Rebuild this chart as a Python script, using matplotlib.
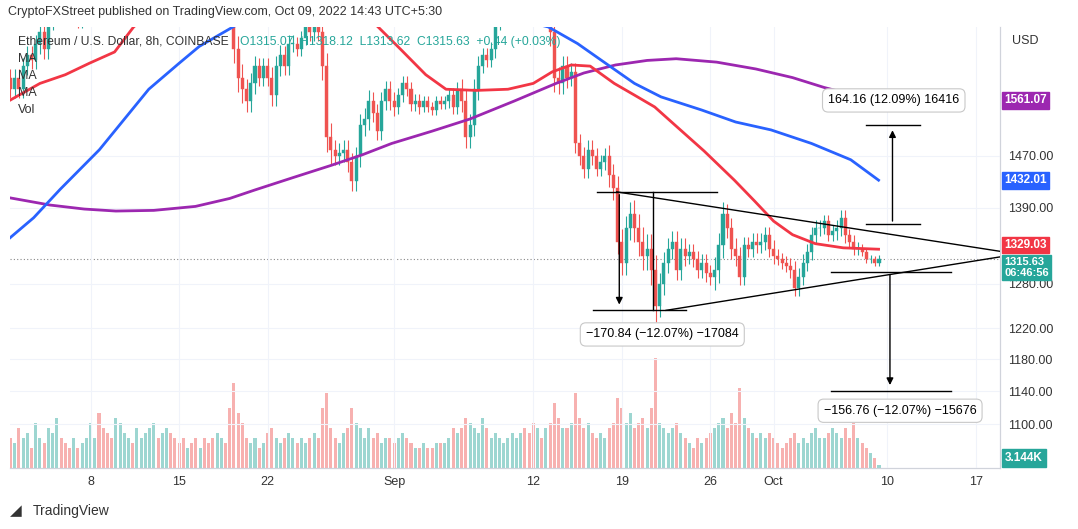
import numpy as np
import matplotlib
matplotlib.use("Agg")
import matplotlib.pyplot as plt
from matplotlib.patches import Rectangle

plt.rcParams["font.family"] = "Liberation Sans"

# 8h closes, Aug 1 16:00 .. Oct 9 08:00 (UTC)
closes = [
    1580,
    1600, 1580, 1620, 1640, 1630, 1660, 1680, 1650, 1700, 1720, 1760, 1740,
    1730, 1710, 1720, 1700, 1720, 1740, 1780, 1800, 1770, 1750, 1720, 1710,
    1760, 1840, 1850, 1880, 1870, 1880, 1890, 1920, 1950, 1980, 1970, 1985,
    2000, 1960, 1935, 1910, 1890, 1900, 1880, 1870, 1875, 1860, 1840, 1835,
    1850, 1860, 1840, 1720, 1650, 1600, 1580, 1560, 1590, 1620, 1600, 1620,
    1600, 1570, 1620, 1640, 1620, 1660, 1660, 1650, 1670, 1690, 1680, 1700,
    1680, 1620, 1500, 1480, 1470, 1475, 1480, 1460, 1430, 1470, 1520, 1530,
    1560, 1540, 1510, 1560, 1580, 1560,
    1550, 1570, 1590, 1580, 1555, 1560, 1550, 1560, 1550, 1545, 1560, 1555,
    1560, 1570, 1550, 1580, 1560, 1500, 1520, 1580, 1620, 1640, 1630, 1650,
    1700, 1720, 1720, 1730, 1740, 1760, 1760, 1750, 1740, 1720, 1730, 1720,
    1720, 1680, 1600, 1590, 1620, 1600, 1610, 1490, 1470, 1450, 1480, 1470,
    1450, 1460, 1470, 1440, 1420, 1340, 1310, 1360, 1380, 1360, 1340, 1320,
    1330, 1300, 1250, 1280, 1310, 1330, 1340, 1300, 1330, 1320, 1325, 1315,
    1300, 1310, 1295, 1290, 1300, 1335, 1380, 1360, 1330, 1320, 1290, 1335,
    1330, 1340, 1335, 1340, 1350, 1330,
    1320, 1315, 1310, 1305, 1300, 1275, 1290, 1310, 1325, 1350, 1360, 1360,
    1370, 1350, 1355, 1360, 1375, 1350, 1340, 1330, 1330, 1325, 1315, 1315,
    1310, 1315.63,
]

# daily wick size (Aug 1 .. Oct 9)
wicks = [
    25, 25, 25, 30, 25, 20, 20, 30, 30, 35, 25, 25, 25, 30, 20, 15, 20, 20, 40,
    30, 25, 30, 25, 20, 25, 40, 25, 25, 30, 25, 25,
    20, 20, 15, 15, 20, 30, 30, 20, 25, 25, 20, 25, 40, 30, 25, 25, 20, 30,
    30, 35, 35, 25, 25, 20, 20, 30, 25, 20, 20, 20,
    15, 20, 20, 20, 15, 20, 15, 10, 8,
]

# volume per candle (thousands)
volumes = [
    30,
    25, 40, 30, 35, 20, 45, 30, 25, 40, 35, 50, 30, 25, 20, 30, 20, 25, 30,
    45, 30, 55, 40, 35, 30, 50, 45, 35, 30, 25, 40, 30, 35, 40, 45, 30, 35,
    40, 35, 30, 25, 30, 20, 25, 30, 20, 30, 25, 30, 35, 30, 25, 60, 85, 55,
    45, 30, 25, 30, 20, 25, 35, 40, 30, 25, 30, 35, 30, 25, 30, 25, 30, 35,
    30, 60, 75, 40, 30, 25, 35, 40, 60, 45, 40, 30, 40, 30, 35, 25, 30, 30,
    25, 30, 35, 30, 25, 20, 20, 25, 20, 20, 25, 25, 25, 30, 40, 35, 40, 50,
    45, 40, 35, 50, 40, 30, 35, 30, 25, 30, 35, 30, 35, 40, 35, 45, 40, 30,
    40, 45, 65, 50, 40, 40, 45, 75, 50, 40, 45, 35, 30, 35, 30, 40, 45, 70,
    60, 45, 55, 40, 45, 50, 40, 60, 110, 45, 40, 35, 40, 45, 35, 30, 25, 20,
    30, 25, 30, 35, 40, 45, 50, 40, 55, 45, 80, 50, 40, 35, 30, 35, 30, 35,
    30, 25, 20, 25, 30, 35, 25, 30, 25, 35, 40, 30, 30, 35, 40, 35, 30, 40,
    30, 45, 30, 25, 20, 15, 10, 3.144,
]

# moving averages, read as knots (day since Aug 1, price)
ma_red_x = [0.6, 3.0, 5.0, 6.9, 8.9, 10.4, 14, 20, 25, 29.3, 31.5, 33.5, 35.1, 37.5, 40.0,
            42.0, 43.5, 45.0, 46.5, 48.4, 50.0, 51.6, 53.2, 55.5, 57.9, 59.5, 61.0, 62.5,
            64.3, 66.5, 69.3]
ma_red_y = [1561, 1590, 1605, 1625, 1645, 1690, 1760, 1800, 1790, 1700, 1650, 1605, 1580,
            1578, 1580, 1590, 1610, 1622, 1620, 1590, 1570, 1550, 1520, 1478, 1432, 1400,
            1370, 1350, 1337, 1331, 1329]
ma_blue_x = [0.6, 2.5, 4.6, 7.7, 11.6, 14.0, 15.6, 18.4, 24, 30, 38, 43.2, 45.5, 47.4, 50.0,
             52.1, 55.3, 58.0, 60.8, 64.0, 67.1, 69.3]
ma_blue_y = [1345, 1375, 1418, 1480, 1580, 1625, 1655, 1692, 1730, 1740, 1720, 1690, 1660,
             1630, 1590, 1567, 1545, 1525, 1512, 1490, 1464, 1432]
ma_purple_x = [0.6, 3.8, 6.5, 9.0, 12.0, 15.3, 18.0, 20.0, 23.0, 26.0, 28.5, 30.8, 34.0,
               37.0, 40.5, 43.8, 46.0, 48.5, 51.0, 53.3, 56.5, 59.6, 62.5, 65.0, 67.0, 69.3]
ma_purple_y = [1405, 1394, 1388, 1385, 1386, 1392, 1404, 1417, 1436, 1455, 1472, 1490,
               1510, 1530, 1560, 1590, 1608, 1622, 1630, 1633, 1627, 1615, 1600, 1583,
               1572, 1561]

last_price = 1315.63
tick_days = [7, 14, 21, 31, 42, 49, 56, 61, 70, 77]
tick_labels = ["8", "15", "22", "Sep", "12", "19", "26", "Oct", "10", "17"]
y_ticks = [1100, 1140, 1180, 1220, 1280, 1390, 1470]

GREEN = "#26a69a"
RED = "#ef5350"

n = len(closes)
t = 69 + 1 / 3 - (n - 1 - np.arange(n)) / 3
opens = np.r_[closes[0] + 20, closes[:-1]]
closes_a = np.array(closes, dtype=float)
w = np.array([wicks[min(int(d), len(wicks) - 1)] for d in t])
highs = np.maximum(opens, closes_a) + w * 0.6
lows = np.minimum(opens, closes_a) - w * 0.6
up = closes_a >= opens

fig = plt.figure(figsize=(10.78, 5.29), dpi=100)
ax = fig.add_axes([10 / 1078, 1 - 468 / 529, 990 / 1078, 441 / 529])
ax.set_yscale("log")
ax.set_xlim(0.63, 78.9)
ax.set_ylim(1049, 1690)

vax = ax.twinx()
vax.set_ylim(0, 440)
vol = np.array(volumes, dtype=float)
vt = t[-len(vol):] if len(vol) <= n else t
vol = vol[-len(vt):]
vup = up[-len(vol):]
vax.bar(vt, vol, width=0.24, color=[GREEN if u else RED for u in vup], alpha=0.45)
vax.set_yticks([])
vax.set_zorder(0)
ax.set_zorder(1)
ax.patch.set_visible(False)

for ti, o, c, h, l, u in zip(t, opens, closes_a, highs, lows, up):
    col = GREEN if u else RED
    ax.vlines(ti, l, h, color=col, lw=0.8, zorder=2)
    ax.add_patch(Rectangle((ti - 0.12, min(o, c)), 0.24, max(abs(c - o), 0.5),
                           facecolor=col, edgecolor=col, lw=0.3, zorder=3))

ax.plot(ma_purple_x, ma_purple_y, color="#9c27b0", lw=2, zorder=4)
ax.plot(ma_blue_x, ma_blue_y, color="#2962ff", lw=2, zorder=4)
ax.plot(ma_red_x, ma_red_y, color="#f23645", lw=2, zorder=4)
ax.axhline(last_price, color="#888888", lw=0.8, ls=(0, (1, 2)), zorder=1)

# triangle and measurement drawings
k = dict(color="black", lw=1, zorder=5)
ax.plot([48.6, 78.9], [1414, 1326], **k)
ax.plot([52.5, 78.9], [1244, 1318], **k)
ax.plot([47.0, 56.5], [1414, 1414], **k)
ax.plot([46.7, 54.1], [1244, 1244], **k)
ax.plot([51.5, 51.5], [1414, 1244], **k)
ax.plot([68.3, 72.6], [1520, 1520], **k)
ax.plot([68.3, 72.6], [1366, 1366], **k)
ax.plot([65.5, 75.0], [1297, 1297], **k)
ax.plot([65.5, 75.0], [1140, 1140], **k)
arr = dict(arrowstyle="-|>", color="black", lw=1, mutation_scale=10)
ax.annotate("", xy=(48.8, 1248), xytext=(48.8, 1414), arrowprops=arr)
ax.annotate("", xy=(70.4, 1516), xytext=(70.4, 1366), arrowprops=arr)
ax.annotate("", xy=(70.2, 1144), xytext=(70.2, 1297), arrowprops=arr)
box = dict(boxstyle="round,pad=0.45", fc="white", ec="#c8c8c8", lw=0.8)
ax.text(70.5, 1561, "164.16 (12.09%) 16416", ha="center", va="center", fontsize=9, bbox=box, zorder=6)
ax.text(52.2, 1212, "\u2212170.84 (\u221212.07%) \u221217084", ha="center", va="center", fontsize=9, bbox=box, zorder=6)
ax.text(71.0, 1116, "\u2212156.76 (\u221212.07%) \u221215676", ha="center", va="center", fontsize=9, bbox=box, zorder=6)

ax.set_xticks(tick_days)
ax.set_xticklabels(tick_labels, fontsize=9, color="#333333")
ax.yaxis.tick_right()
ax.set_yticks(y_ticks)
ax.set_yticklabels([f"{v:.2f}" for v in y_ticks], fontsize=9, color="#333333")
ax.yaxis.set_minor_locator(matplotlib.ticker.NullLocator())
ax.tick_params(length=0, pad=6)
ax.grid(True, color="#f0f3fa", lw=0.8)
for s in ["top", "left"]:
    ax.spines[s].set_visible(False)
    vax.spines[s].set_visible(False)
for s in ["right", "bottom"]:
    ax.spines[s].set_color("#d0d3db")
    vax.spines[s].set_color("#d0d3db")

# right-side price tags
def tag(y, text, col, dy=0, va="center", fs=8.5):
    ax.annotate(text, xy=(1.0, y), xycoords=("axes fraction", "data"), xytext=(3, dy),
                textcoords="offset points", ha="left", va=va, fontsize=fs,
                color="white", fontweight="bold", linespacing=1.1,
                bbox=dict(boxstyle="square,pad=0.2", fc=col, ec=col), zorder=10,
                annotation_clip=False)

tag(1561.07, "1561.07", "#9c27b0")
tag(1432.01, "1432.01", "#2962ff")
tag(1315.63, "1315.63\n06:46:56", GREEN, dy=1, va="top", fs=8)
tag(1329.03, "1329.03", "#f23645", dy=3)
fig.text(1005 / 1078, 1 - 458 / 529, "3.144K", fontsize=8.5, color="white", fontweight="bold",
         va="center", bbox=dict(boxstyle="square,pad=0.25", fc=GREEN, ec=GREEN))
fig.text(1012 / 1078, 1 - 41 / 529, "USD", fontsize=9, color="#333333", va="center")

fig.text(8 / 1078, 1 - 12 / 529, "CryptoFXStreet published on TradingView.com, Oct 09, 2022 14:43 UTC+5:30",
         fontsize=9, color="#333333", va="center")
fig.text(18 / 1078, 1 - 42 / 529, "Ethereum / U.S. Dollar, 8h, COINBASE", fontsize=8.7, color="#333333", va="center")
fig.text(240 / 1078, 1 - 42 / 529, "O1315.07  H1318.12  L1313.62  C1315.63  +0.44 (+0.03%)",
         fontsize=8.7, color=GREEN, va="center")
for i, s in enumerate(["MA", "MA", "MA", "Vol"]):
    fig.text(18 / 1078, 1 - (59 + 17 * i) / 529, s, fontsize=9, color="#333333", va="center")
fig.text(33 / 1078, 1 - 511 / 529, "TradingView", fontsize=10, color="#333333", va="center")
fig.text(10 / 1078, 1 - 511 / 529, "\u25e2", fontsize=11, color="#333333", va="center",
         fontfamily="DejaVu Sans")

fig.savefig("out.png", dpi=100)
